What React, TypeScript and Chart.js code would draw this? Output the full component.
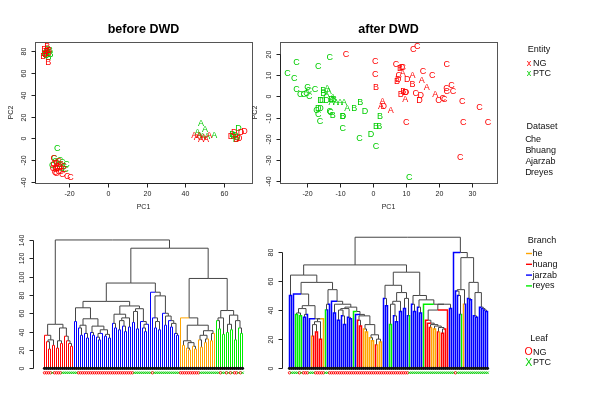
import React, { useEffect, useRef } from "react";
import { Chart, registerables } from "chart.js";

Chart.register(...registerables);

const FONT = '"Liberation Sans", Arial, Helvetica, sans-serif';
const NG_COLOR = "#ff0000";
const PTC_COLOR = "#00cd00";
const BRANCH: Record<string, string> = { O: "#ffa500", R: "#ff0000", B: "#0000ff", G: "#00ee00", K: "#454545" };

// ---------- scatter: before DWD ----------
const beforeNgX = [-31.5, -31.0, -33.5, -32.0, -31.0, -30.5, -32.5, -33.0,
  -28.1, -25.5, -22.9, -23.7, -21.1, -19.4, -27.2, -26.3, -24.6, -28.1,
  -25.5, -26.0, -27.0, -25.0, -27.5, -24.5, -26.5, -28.5, -23.0, -26.8,
  44.7, 48.2, 50.8, 52.5, 47.3, 46.0, 49.5,
  63.8, 65.5, 70.7, 68.1, 69.0, 66.8];
const beforeNgY = [84.0, 69.5, 75.0, 80.0, 78.0, 81.0, 77.0, 82.0,
  -18.3, -21.3, -28.9, -33.5, -35.1, -36.0, -29.0, -25.9, -24.4, -24.4,
  -30.5, -28.0, -26.5, -27.0, -31.0, -30.0, -23.0, -28.0, -26.0, -32.5,
  2.4, -1.2, -1.2, 2.4, 2.4, 0.5, 0.8,
  2.0, 5.0, 6.4, 0.3, 5.5, -0.8];
const beforeNgSet = "BBBBBBBB" + "CCCCCCCCCCCCCCCCCCCC" + "AAAAAAA" + "DDDDDD";

const beforePtcX = [-31.5, -30.0, -32.0, -30.8, -33.0, -29.8, -31.2,
  -26.3, -28.9, -23.7, -22.0, -24.8, -27.2, -22.9, -25.5, -26.8, -24.0, -27.8, -21.5,
  48.2, 46.4, 50.3, 55.1, 47.5, 49.0, 51.5,
  67.6, 64.5, 66.0, 67.0, 66.3, 65.0];
const beforePtcY = [79.5, 80.5, 76.0, 74.0, 78.0, 77.0, 82.0,
  -9.1, -25.0, -22.3, -29.0, -20.4, -21.3, -25.9, -23.5, -27.5, -28.0, -18.5, -24.0,
  14.0, 5.5, 8.0, 2.4, 3.0, 1.5, 2.0,
  9.5, 4.0, 3.0, 1.0, -1.2, 2.0];
const beforePtcSet = "BBBBBBB" + "CCCCCCCCCCCC" + "AAAAAAA" + "DDDDDD";

// ---------- scatter: after DWD ----------
const afterNgX = [-8.1, 12.3, 13.5, 0.8, 0.8, 1.0, 7.1, 8.3, 8.9, 9.1,
  9.1, 7.9, 7.4, 7.8, 10.5, 12.1, 12.1, 15.3, 14.9, 18.1,
  22.5, 16.4, 10.1, 9.3, 8.5, 13.1, 14.6, 9.9, 14.2, 19.0,
  21.3, 20.0, 21.7, 22.4, 23.9, 22.5, 24.4, 27.2, 32.4, 35.0,
  27.5, 10.2, 26.6, 3.0, 2.5, 3.4, 5.5, 10.0];
const afterNgY = [19.8, 22.3, 23.5, 16.3, 10.5, 4.4, 15.1, 13.2, 13.8, 13.5,
  11.0, 9.7, 7.1, 7.8, 7.8, 9.7, 5.7, 11.6, 7.5, 9.7,
  15.1, 4.4, 1.9, 2.4, 0.9, 1.3, 0.5, -1.6, -1.9, 0.9,
  -0.8, -1.9, -1.6, 3.8, 5.0, 2.2, 2.2, -2.2, -5.2, -12.1,
  -12.1, -12.4, -28.7, -2.4, -4.7, -4.7, -6.6, 1.8];
const afterNgSet = "CCCCCBCBDC" + "ACBDDABCAC" + "CADBBCDADA" + "CCCCCCCCCC" + "CCCAADAD";

const afterPtcX = [-23.1, -16.5, -13.0, -25.8, -23.8, -23.1, -19.8, -22.0, -20.9, -20.1,
  -19.2, -17.5, -19.4, -15.8, -16.5, -15.8, -16.0, -16.5, -13.0, -15.0,
  -15.0, -13.8, -13.3, -14.0, -12.5, -11.7, -12.1, -11.1, -9.9, -8.7,
  -7.7, -12.1, -9.1, -9.0, -3.8, -5.6, -2.3, -9.1, -4.0, -0.5,
  1.0, 2.2, 1.0, 2.0, 11.1, -12.5, -12.8, -15.3, -14.0, -17.0];
const afterPtcY = [16.0, 14.0, 18.2, 11.0, 8.6, 3.5, 4.4, 1.1, 1.1, 1.3,
  0.0, 3.5, 2.7, -2.0, -5.5, -5.8, -11.8, -8.3, -7.1, 3.0,
  1.4, 3.9, 2.4, -2.0, -1.6, -1.6, -0.3, -2.8, -2.8, -2.8,
  -5.5, -8.9, -9.3, -9.3, -2.8, -5.5, -7.1, -15.0, -20.0, -18.0,
  -23.7, -9.3, -14.3, -14.3, -38.1, -3.0, -7.6, -1.7, 1.0, -6.5];
const afterPtcSet = "CCCCCCCCCC" + "CCCDDDCCCB" + "BAADDBAAAA" + "ABBDBBDCCD" + "CBBBCACDAC";

// ---------- tick labels ----------
const beforeXTicks = [-20, 0, 20, 40, 60];
const beforeYTicks = [-40, -20, 0, 20, 40, 60, 80];
const afterXTicks = [-20, -10, 0, 10, 20, 30];
const afterYTicks = [-40, -30, -20, -10, 0, 10, 20];
const dendroBeforeTicks = [0, 20, 40, 60, 80, 100, 120, 140];
const dendroAfterTicks = [0, 20, 40, 60, 80];

// ---------- dendrograms: merge height between neighbouring leaves ----------
const dendroBeforeGaps = [
  36, 29, 21, 31, 25, 48, 22, 30, 27, 44, 35, 30, 27, 24,
  140,
  51, 66,
  44, 36, 47, 38, 33, 54, 39, 36, 46, 34, 31, 38, 42, 35, 37, 33,
  73,
  49, 44, 59, 42, 52, 46, 40, 55, 45, 68, 50, 62, 43, 65, 51, 44, 40, 48,
  93,
  83, 55, 44, 51, 42, 79, 60, 47, 57, 52, 45, 49, 38, 36,
  131,
  55, 25, 30, 22, 20, 28, 24, 21, 47, 31, 23, 36, 28, 32, 41, 30, 38,
  98,
  52, 43, 55, 37, 63, 39, 48, 42, 58, 31, 52, 44, 38];
const dendroBeforeColors =
  "RRRRRRRRRRRRRRR" +
  "BBBBBBBBBBBBBBBBBBBBBBBBBBBBBBBBBBBBBBBBBBBBBBBBBBBBB" +
  "OOOOOOOOOOOOOOOOOO" +
  "GGGGGGGGGGGGGG";
const dendroBeforeLeaf =
  "ooooxoooo" + "xxxxxxxx" + "oooooooooooooooooooooooooooo" +
  "xxxxxxxxxoxxxxxxxxxxxxx" + "oooooooooo" + "xxxxxxxx" + "xxoxxoxoxooxox";

const dendroAfterGaps = [
  50, 64,
  51, 37, 38, 36, 41, 35, 37, 43, 34, 22, 30, 25, 32, 20, 34,
  59,
  40, 44, 54, 46, 38, 44, 33, 40, 36, 30, 41, 35, 34, 42, 39, 37, 33, 29, 36, 27, 25, 30, 21, 19, 23, 16, 20, 18,
  71,
  48, 43, 57, 30, 44, 36, 32, 46, 39, 52, 41, 48, 36,
  66,
  44, 39, 50, 42, 38, 47, 44, 33, 31, 28, 30, 27, 29, 25, 28, 24, 27, 40, 44, 41,
  90,
  79.5,
  53, 50, 37, 54, 44, 76, 48, 47, 59, 36, 35, 52, 42, 41, 40, 39];
const dendroAfterColors =
  "BBBGGGGBBBBORRRRROG" +
  "BBBBBBBBBBBBBGBRRROOOOOOROOO" +
  "BBBGGBBBBBBBBG" +
  "BBBBBBGRRROOORORRRRBB" +
  "BBBBGOBBBBBBBBBBBB";
const dendroAfterLeaf =
  "oxxxxoxo" + "oo" + "xxx" + "ooooo" + "xx" +
  "oooooooooooooooooooooooooooooooooooooooo" +
  "xxxxxxxxxxxxxxxxxxxxxxx" + "o" + "xxxxxxxxxxxxxxxx";

// ---------- legend ----------
const entityNames = ["NG", "PTC"];
const datasetCodes = ["C", "B", "A", "D"];
const datasetNames = ["he", "huang", "jarzab", "reyes"];
const branchKeys = ["O", "R", "B", "G"];

type Pt = { x: number; y: number | null };

function buildDendrogram(gaps: number[], colors: string, leafWidth: number) {
  const groups: Record<string, Pt[]> = { R: [], B: [], O: [], G: [], K: [] };
  const rec = (lo: number, hi: number): { x: number; h: number; leaf: string | null } => {
    if (lo === hi) return { x: lo, h: 0, leaf: colors[lo] };
    let k = lo;
    for (let i = lo + 1; i < hi; i++) if (gaps[i] > gaps[k]) k = i;
    const l = rec(lo, k);
    const r = rec(k + 1, hi);
    const h = gaps[k];
    const x = (l.x + r.x) / 2;
    for (const c of [l, r]) {
      const g = groups[c.leaf ?? "K"];
      g.push({ x: c.x, y: c.h }, { x: c.x, y: h }, { x, y: h }, { x, y: null });
    }
    return { x, h, leaf: null };
  };
  rec(0, colors.length - 1);
  return Object.keys(groups).map((key) => ({
    data: groups[key],
    showLine: true,
    fill: false,
    borderColor: BRANCH[key],
    backgroundColor: "transparent",
    borderWidth: key === "K" ? 1 : leafWidth,
    pointRadius: 0,
    spanGaps: false,
    tension: 0,
    order: key === "K" ? 1 : 0,
  }));
}

const textPointsPlugin = {
  id: "textPoints",
  afterDatasetsDraw(chart: any) {
    const ctx = chart.ctx;
    ctx.save();
    ctx.font = `9px ${FONT}`;
    ctx.textAlign = "center";
    ctx.textBaseline = "middle";
    chart.data.datasets.forEach((ds: any, di: number) => {
      const meta = chart.getDatasetMeta(di);
      ctx.fillStyle = ds.borderColor;
      meta.data.forEach((el: any, i: number) => ctx.fillText(ds.data[i].t, el.x, el.y));
    });
    ctx.restore();
  },
};

const leafPlugin = {
  id: "leafMarks",
  afterDatasetsDraw(chart: any, _a: any, o: any) {
    if (!o || !o.marks) return;
    const ctx = chart.ctx;
    const xs = chart.scales.x, ys = chart.scales.y;
    const y0 = ys.getPixelForValue(0);
    ctx.save();
    const marks: string = o.marks;
    for (let i = 0; i < marks.length; i++) {
      const px = xs.getPixelForValue(i);
      ctx.fillStyle = "#111";
      ctx.beginPath();
      ctx.arc(px, y0, 1.6, 0, Math.PI * 2);
      ctx.fill();
      const my = y0 + 4.5;
      ctx.lineWidth = 0.9;
      if (marks[i] === "o") {
        ctx.strokeStyle = NG_COLOR;
        ctx.beginPath();
        ctx.arc(px, my, 1.2, 0, Math.PI * 2);
        ctx.stroke();
      } else {
        ctx.strokeStyle = PTC_COLOR;
        ctx.beginPath();
        ctx.moveTo(px - 1.2, my - 1.2);
        ctx.lineTo(px + 1.2, my + 1.2);
        ctx.moveTo(px + 1.2, my - 1.2);
        ctx.lineTo(px - 1.2, my + 1.2);
        ctx.stroke();
      }
    }
    ctx.restore();
  },
};

const axesPlugin = {
  id: "rAxes",
  afterDraw(chart: any, _a: any, o: any) {
    if (!o) return;
    const ctx = chart.ctx;
    const a = chart.chartArea;
    const xs = chart.scales.x, ys = chart.scales.y;
    ctx.save();
    ctx.lineWidth = 1;
    if (o.box) {
      ctx.strokeStyle = "#555";
      ctx.strokeRect(Math.round(a.left) + 0.5, Math.round(a.top) + 0.5,
        Math.round(a.right - a.left), Math.round(a.bottom - a.top));
    }
    ctx.strokeStyle = "#222";
    ctx.fillStyle = "#222";
    ctx.font = `7px ${FONT}`;
    ctx.textAlign = "center";
    ctx.textBaseline = "middle";
    if (o.xTicks) {
      const y0 = Math.round(a.bottom) + 0.5;
      const p = o.xTicks.map((v: number) => Math.round(xs.getPixelForValue(v)) + 0.5);
      ctx.beginPath();
      ctx.moveTo(p[0], y0);
      ctx.lineTo(p[p.length - 1], y0);
      p.forEach((px: number) => { ctx.moveTo(px, y0); ctx.lineTo(px, y0 + 4); });
      ctx.stroke();
      o.xTicks.forEach((v: number, i: number) => ctx.fillText(String(v), p[i], y0 + 11));
    }
    if (o.yTicks) {
      const x0 = Math.round(a.left) + 0.5;
      const p = o.yTicks.map((v: number) => Math.round(ys.getPixelForValue(v)) + 0.5);
      ctx.beginPath();
      ctx.moveTo(x0, p[0]);
      ctx.lineTo(x0, p[p.length - 1]);
      p.forEach((py: number) => { ctx.moveTo(x0, py); ctx.lineTo(x0 - 4, py); });
      ctx.stroke();
      o.yTicks.forEach((v: number, i: number) => {
        ctx.save();
        ctx.translate(x0 - 11, p[i]);
        ctx.rotate(-Math.PI / 2);
        ctx.fillText(String(v), 0, 0);
        ctx.restore();
      });
    }
    if (o.xLabel) ctx.fillText(o.xLabel, (a.left + a.right) / 2, o.xLabelY);
    if (o.yLabel) {
      ctx.save();
      ctx.translate(o.yLabelX, (a.top + a.bottom) / 2);
      ctx.rotate(-Math.PI / 2);
      ctx.fillText(o.yLabel, 0, 0);
      ctx.restore();
    }
    if (o.title) {
      ctx.fillStyle = "#000";
      ctx.font = `bold 12.5px ${FONT}`;
      ctx.fillText(o.title, (a.left + a.right) / 2, 30);
    }
    if (o.legend) drawLegend(ctx);
    ctx.restore();
  },
};

function drawLegend(ctx: CanvasRenderingContext2D) {
  ctx.save();
  ctx.textBaseline = "middle";
  ctx.font = `9px ${FONT}`;
  ctx.fillStyle = "#111";
  ctx.textAlign = "center";
  ctx.fillText("Entity", 539, 50);
  ctx.fillText("Dataset", 542, 127);
  ctx.fillText("Branch", 542, 240.5);
  ctx.fillText("Leaf", 539, 338.5);
  const entColors = [NG_COLOR, PTC_COLOR];
  entityNames.forEach((n, i) => {
    const y = 63.5 + i * 10.5;
    ctx.textAlign = "center";
    ctx.fillStyle = entColors[i];
    ctx.fillText("x", 529, y);
    ctx.textAlign = "left";
    ctx.fillStyle = "#111";
    ctx.fillText(n, 533, y);
  });
  datasetCodes.forEach((c, i) => {
    const y = 140 + i * 11;
    ctx.textAlign = "center";
    ctx.fillStyle = "#111";
    ctx.fillText(c, 528.5, y);
    ctx.textAlign = "left";
    ctx.fillText(datasetNames[i], 531, y);
  });
  branchKeys.forEach((k, i) => {
    const y = 253.5 + i * 10.8;
    ctx.strokeStyle = BRANCH[k];
    ctx.lineWidth = 1.4;
    ctx.beginPath();
    ctx.moveTo(526, y);
    ctx.lineTo(532, y);
    ctx.stroke();
    ctx.textAlign = "left";
    ctx.fillStyle = "#111";
    ctx.fillText(datasetNames[i], 532.5, y);
  });
  ctx.font = `10.5px ${FONT}`;
  ctx.textAlign = "center";
  ctx.fillStyle = NG_COLOR;
  ctx.fillText("O", 528.7, 352.5);
  ctx.fillStyle = PTC_COLOR;
  ctx.fillText("X", 528.7, 363);
  ctx.font = `9px ${FONT}`;
  ctx.textAlign = "left";
  ctx.fillStyle = "#111";
  ctx.fillText(entityNames[0], 533, 352.5);
  ctx.fillText(entityNames[1], 533, 363);
  ctx.restore();
}

function pts(xs: number[], ys: number[], set: string) {
  return xs.map((x, i) => ({ x, y: ys[i], t: set[i] }));
}

function baseOptions(pad: any, xr: number[], yr: number[], plugins: any) {
  return {
    responsive: false,
    animation: false,
    devicePixelRatio: 1,
    events: [],
    layout: { padding: pad },
    scales: {
      x: { type: "linear", display: false, min: xr[0], max: xr[1] },
      y: { type: "linear", display: false, min: yr[0], max: yr[1] },
    },
    plugins: { legend: { display: false }, tooltip: { enabled: false }, ...plugins },
  };
}

function scatterConfig(ng: any[], ptc: any[], pad: any, xr: number[], yr: number[], axes: any) {
  return {
    type: "scatter",
    data: {
      datasets: [
        { data: ptc, borderColor: PTC_COLOR, pointRadius: 0 },
        { data: ng, borderColor: NG_COLOR, pointRadius: 0 },
      ],
    },
    options: baseOptions(pad, xr, yr, { rAxes: axes }),
    plugins: [textPointsPlugin, axesPlugin],
  };
}

function dendroConfig(gaps: number[], colors: string, marks: string, leafWidth: number,
  pad: any, xr: number[], yr: number[], axes: any) {
  return {
    type: "scatter",
    data: { datasets: buildDendrogram(gaps, colors, leafWidth) },
    options: baseOptions(pad, xr, yr, { rAxes: axes, leafMarks: { marks } }),
    plugins: [leafPlugin, axesPlugin],
  };
}

export default function App() {
  const r1 = useRef<HTMLCanvasElement>(null);
  const r2 = useRef<HTMLCanvasElement>(null);
  const r3 = useRef<HTMLCanvasElement>(null);
  const r4 = useRef<HTMLCanvasElement>(null);

  useEffect(() => {
    const configs: any[] = [
      scatterConfig(
        pts(beforeNgX, beforeNgY, beforeNgSet),
        pts(beforePtcX, beforePtcY, beforePtcSet),
        { left: 35, right: 348, top: 42, bottom: 233 },
        [-37.82, 74.65], [-40.92, 88.52],
        { box: true, xTicks: beforeXTicks, yTicks: beforeYTicks, title: "before DWD",
          xLabel: "PC1", xLabelY: 207.5, yLabel: "PC2", yLabelX: 10.7 }
      ),
      scatterConfig(
        pts(afterNgX, afterNgY, afterNgSet),
        pts(afterPtcX, afterPtcY, afterPtcSet),
        { left: 280, right: 103, top: 42, bottom: 233 },
        [-28.11, 37.72], [-40.75, 25.65],
        { box: true, xTicks: afterXTicks, yTicks: afterYTicks, title: "after DWD",
          xLabel: "PC1", xLabelY: 207.5, yLabel: "PC2", yLabelX: 255 }
      ),
      dendroConfig(dendroBeforeGaps, dendroBeforeColors, dendroBeforeLeaf, 1,
        { left: 33, right: 347, top: 234, bottom: 42 },
        [-5.75, 104.25], [-6.22, 146.5],
        { yTicks: dendroBeforeTicks }
      ),
      dendroConfig(dendroAfterGaps, dendroAfterColors, dendroAfterLeaf, 1.5,
        { left: 282, right: 103, top: 232, bottom: 42 },
        [-3.75, 103.75], [-3.92, 93.6],
        { yTicks: dendroAfterTicks, legend: true }
      ),
    ];
    const refs = [r1, r2, r3, r4];
    const charts = configs.map((cfg, i) => new Chart(refs[i].current as HTMLCanvasElement, cfg));
    return () => charts.forEach((c) => c.destroy());
  }, []);

  const cs: React.CSSProperties = { position: "absolute", left: 0, top: 0, width: 600, height: 416 };
  return (
    <div style={{ position: "fixed", left: 0, top: 0, width: 600, height: 416, background: "#fff" }}>
      <canvas ref={r1} width={600} height={416} style={cs} />
      <canvas ref={r2} width={600} height={416} style={cs} />
      <canvas ref={r3} width={600} height={416} style={cs} />
      <canvas ref={r4} width={600} height={416} style={cs} />
    </div>
  );
}
